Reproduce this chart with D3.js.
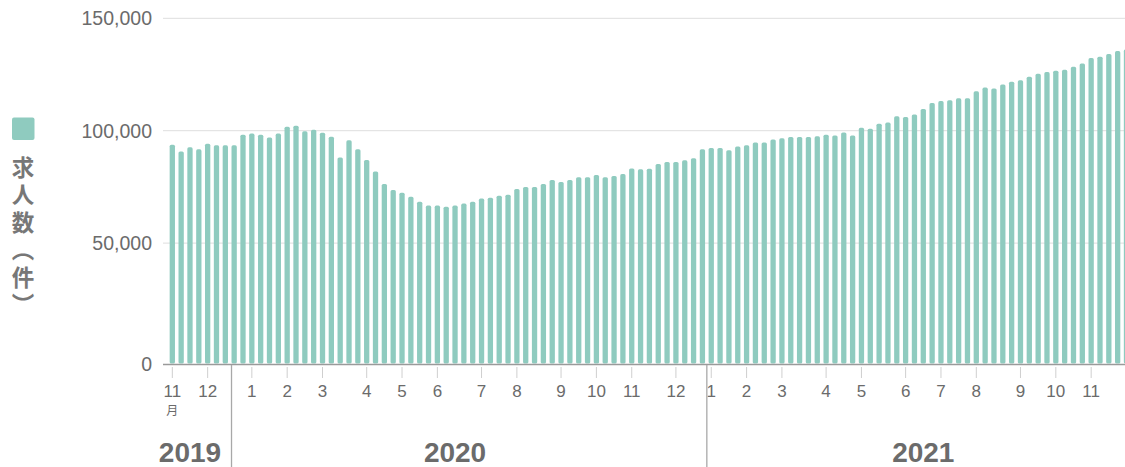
<!DOCTYPE html>
<html>
<head>
<meta charset="utf-8">
<script src="https://cdn.jsdelivr.net/npm/d3@7"></script>
<style>
  html, body { margin: 0; padding: 0; background: #fff; }
  svg { display: block; }
</style>
</head>
<body>
<svg id="chart" width="1125" height="467"></svg>
<script>
// Weekly categories (week starting Monday)
const weeks = [
  "2019-11-04","2019-11-11","2019-11-18","2019-11-25","2019-12-02","2019-12-09","2019-12-16","2019-12-23","2019-12-30",
  "2020-01-06","2020-01-13","2020-01-20","2020-01-27","2020-02-03","2020-02-10","2020-02-17","2020-02-24",
  "2020-03-02","2020-03-09","2020-03-16","2020-03-23","2020-03-30","2020-04-06","2020-04-13","2020-04-20","2020-04-27",
  "2020-05-04","2020-05-11","2020-05-18","2020-05-25","2020-06-01","2020-06-08","2020-06-15","2020-06-22","2020-06-29",
  "2020-07-06","2020-07-13","2020-07-20","2020-07-27","2020-08-03","2020-08-10","2020-08-17","2020-08-24","2020-08-31",
  "2020-09-07","2020-09-14","2020-09-21","2020-09-28","2020-10-05","2020-10-12","2020-10-19","2020-10-26",
  "2020-11-02","2020-11-09","2020-11-16","2020-11-23","2020-11-30","2020-12-07","2020-12-14","2020-12-21","2020-12-28",
  "2021-01-04","2021-01-11","2021-01-18","2021-01-25","2021-02-01","2021-02-08","2021-02-15","2021-02-22",
  "2021-03-01","2021-03-08","2021-03-15","2021-03-22","2021-03-29","2021-04-05","2021-04-12","2021-04-19","2021-04-26",
  "2021-05-03","2021-05-10","2021-05-17","2021-05-24","2021-05-31","2021-06-07","2021-06-14","2021-06-21","2021-06-28",
  "2021-07-05","2021-07-12","2021-07-19","2021-07-26","2021-08-02","2021-08-09","2021-08-16","2021-08-23","2021-08-30",
  "2021-09-06","2021-09-13","2021-09-20","2021-09-27","2021-10-04","2021-10-11","2021-10-18","2021-10-25",
  "2021-11-01","2021-11-08","2021-11-15","2021-11-22","2021-11-29"
];

// Job openings (件)
const jobs = [
  93800, 90800, 92600, 91700, 94200, 93500, 93500, 93500, 98200,
  98700, 98200, 97000, 98700, 101800, 102200, 99700, 100400,
  99100, 97300, 88100, 95700, 91800, 87000, 81900, 76300, 73600,
  72400, 70600, 68400, 66700, 66700, 66200, 66700, 67600, 68400,
  69800, 70200, 71100, 71500, 74100, 75000, 75000, 76300, 78100,
  77200, 78100, 79300, 79300, 80300, 79300, 79900, 80700,
  83200, 82800, 83100, 85200, 86100, 86100, 86800, 87800, 91800,
  92300, 92300, 91300, 93000, 93500, 94800, 94800, 96100,
  96600, 97200, 97200, 97200, 97500, 98200, 97900, 99200, 97900,
  101300, 100900, 103100, 103600, 106400, 106100, 107200, 109700, 112300,
  113200, 113600, 114400, 114400, 117500, 119200, 118800, 120600, 121800,
  122400, 124000, 125300, 126100, 126700, 127100, 128400, 129900,
  132300, 132900, 134100, 135400, 136100
];

// Month ticks
const monthTickWeeks = [
  "2019-11-04","2019-12-02","2020-01-06","2020-02-03","2020-03-02","2020-04-06","2020-05-04","2020-06-01",
  "2020-07-06","2020-08-03","2020-09-07","2020-10-05","2020-11-02","2020-12-07","2021-01-04","2021-02-01",
  "2021-03-01","2021-04-05","2021-05-03","2021-06-07","2021-07-05","2021-08-02","2021-09-06","2021-10-04","2021-11-01"
];
const monthTickLabels = ["11","12","1","2","3","4","5","6","7","8","9","10","11","12","1","2","3","4","5","6","7","8","9","10","11"];

const yTicks = [50000, 100000, 150000];
const yearLabels = ["2019", "2020", "2021"];
const yearLabelWeeks = ["2019-11-18", "2020-06-15", "2021-06-21"];
const yearDividerWeeks = ["2019-12-23", "2021-01-04"];
const yTitle = "求人数（件）";
const monthUnit = "月";

const COLOR = "#8fcbbf";
const TEXT = "#6b6b6b";

const svg = d3.select("#chart");
const W = 1125, H = 467;
const plotLeft = 163, baseline = 364;

const x = d3.scaleBand()
  .domain(weeks)
  .range([167.9, 167.9 + weeks.length * 8.835])
  .paddingInner(0.4)
  .paddingOuter(0.2);

const y = d3.scaleLinear().domain([0, 150000]).range([355.5, 18.3]);

// Gridlines
svg.append("g").selectAll("line").data(yTicks).join("line")
  .attr("x1", plotLeft).attr("x2", W)
  .attr("y1", d => y(d)).attr("y2", d => y(d))
  .attr("stroke", "#dedede").attr("stroke-width", 1);

// Y labels
const yLab = svg.append("g")
  .attr("font-family", "'Liberation Sans', Arial, sans-serif")
  .attr("font-size", 19.5).attr("fill", TEXT).attr("text-anchor", "end");
yLab.selectAll("text").data(yTicks).join("text")
  .attr("x", 152).attr("y", d => y(d)).attr("dy", "0.35em")
  .text(d => d3.format(",")(d));
yLab.append("text").attr("x", 152).attr("y", baseline).attr("dy", "0.35em").text("0");

// Bars
svg.append("g").selectAll("rect").data(weeks).join("rect")
  .attr("x", d => x(d))
  .attr("width", x.bandwidth())
  .attr("y", (d, i) => y(jobs[i]))
  .attr("height", (d, i) => baseline - 0.5 - y(jobs[i]))
  .attr("rx", 1.6)
  .attr("fill", COLOR);

// X axis line
svg.append("line")
  .attr("x1", plotLeft).attr("x2", W)
  .attr("y1", baseline + 0.5).attr("y2", baseline + 0.5)
  .attr("stroke", "#9a9a9a").attr("stroke-width", 1.3);

// Month ticks
const cx = d => x(d) + x.bandwidth() / 2;
const mt = svg.append("g");
mt.selectAll("line").data(monthTickWeeks).join("line")
  .attr("x1", d => cx(d)).attr("x2", d => cx(d))
  .attr("y1", 367).attr("y2", 378)
  .attr("stroke", "#cfcfcf").attr("stroke-width", 1);
mt.selectAll("text").data(monthTickWeeks).join("text")
  .attr("x", d => cx(d)).attr("y", 397)
  .attr("text-anchor", "middle")
  .attr("font-family", "'Liberation Sans', Arial, sans-serif")
  .attr("font-size", 17).attr("fill", TEXT)
  .text((d, i) => monthTickLabels[i]);
svg.append("text")
  .attr("x", cx(monthTickWeeks[0])).attr("y", 415)
  .attr("text-anchor", "middle")
  .attr("font-family", "'Noto Sans CJK JP', sans-serif")
  .attr("font-size", 12).attr("fill", TEXT)
  .text(monthUnit);

// Year dividers
const divX = [x(yearDividerWeeks[0]), x(yearDividerWeeks[1]) - x.step() * 0.2];
svg.append("g").selectAll("line").data(divX).join("line")
  .attr("x1", d => d).attr("x2", d => d)
  .attr("y1", baseline + 1).attr("y2", H)
  .attr("stroke", "#a8a8a8").attr("stroke-width", 1.3);

// Year labels
svg.append("g").selectAll("text").data(yearLabels).join("text")
  .attr("x", (d, i) => cx(yearLabelWeeks[i]))
  .attr("y", 462)
  .attr("text-anchor", "middle")
  .attr("font-family", "'Liberation Sans', Arial, sans-serif")
  .attr("font-weight", "bold")
  .attr("font-size", 28).attr("fill", TEXT)
  .text(d => d);

// Legend swatch
svg.append("rect")
  .attr("x", 12).attr("y", 117.5).attr("width", 22.5).attr("height", 22.5)
  .attr("rx", 2).attr("fill", COLOR);

// Vertical y title
svg.append("text")
  .attr("x", 23).attr("y", 156)
  .attr("writing-mode", "vertical-rl")
  .attr("font-family", "'Noto Sans CJK JP', sans-serif")
  .attr("font-weight", "bold")
  .attr("font-size", 22.5)
  .attr("letter-spacing", 5)
  .attr("fill", "#777")
  .text(yTitle);
</script>
</body>
</html>
